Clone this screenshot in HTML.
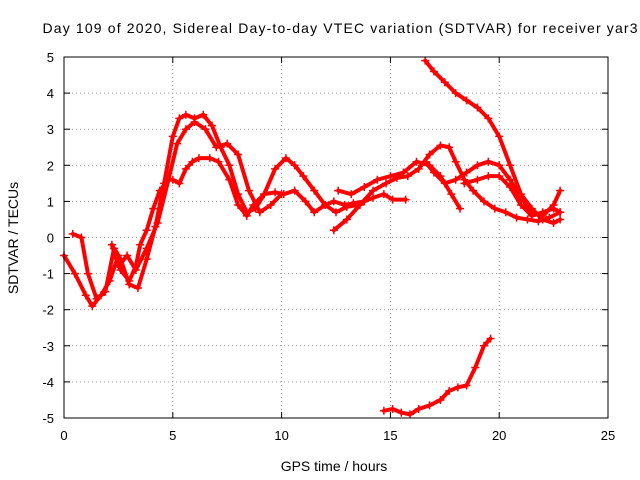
<!DOCTYPE html>
<html><head><meta charset="utf-8"><style>
body{margin:0;background:#fff}
svg{display:block;font-family:"Liberation Sans",sans-serif}
</style></head><body>
<svg id="chart" width="640" height="480">
<text x="340" y="33" font-size="14" text-anchor="middle" textLength="595" lengthAdjust="spacing">Day 109 of 2020, Sidereal Day-to-day VTEC variation (SDTVAR) for receiver yar3</text>
<text x="334" y="471" font-size="14" text-anchor="middle">GPS time / hours</text>
<text x="18" y="238" font-size="14" text-anchor="middle" transform="rotate(-90 18 238)">SDTVAR / TECUs</text>
<g id="grid"></g><g id="ticks"></g><g id="series"></g>
<rect x="64" y="57" width="544" height="361" fill="none" stroke="#000"/>
</svg>
<script>
const xTicks=[0,5,10,15,20,25];
const yTicks=[-5,-4,-3,-2,-1,0,1,2,3,4,5];
const s1x=[0,0.5,1,1.3,1.7,2.1,2.5,2.6,3,3.3,3.5,3.8,4.1,4.4,4.8,5,5.3,5.6,5.9,6.2,6.7,7.1,7.6,8,8.4,8.7,9.2,9.7,10.1,10.6,11.1,11.5,12,12.4,12.9,13.3,13.8,14.2,14.7,15.1,15.7];
const s1y=[-0.5,-1.0,-1.6,-1.9,-1.6,-1.2,-0.5,-0.9,-1.2,-0.8,-0.2,0.2,0.8,1.3,1.6,1.6,1.5,1.9,2.1,2.2,2.2,2.1,1.6,0.9,0.6,0.9,1.2,1.25,1.2,1.3,1.0,0.7,0.9,1.0,0.9,0.95,1.0,1.1,1.2,1.05,1.05];
const s2x=[0.4,0.8,1.1,1.5,1.9,2.3,2.6,3.0,3.4,3.8,4.2,4.6,5,5.3,5.6,6,6.4,6.8,7.2,7.6,8,8.4,8.8,9.2,9.7,10.2,10.6,11,11.5,12,12.5,13,13.5];
const s2y=[0.1,0,-1.0,-1.7,-1.5,-0.3,-0.6,-1.3,-1.4,-0.6,0.3,1.5,2.8,3.3,3.4,3.3,3.4,3.1,2.5,2.0,1.2,0.7,0.8,1.2,1.9,2.2,2.0,1.7,1.3,0.9,0.7,0.85,0.9];
const s3x=[2.2,2.5,2.9,3.3,3.8,4.3,4.8,5.2,5.6,6,6.5,7,7.5,8,8.5,9,9.5,10];
const s3y=[-0.2,-0.8,-0.5,-0.9,-0.3,0.4,1.6,2.6,3.0,3.2,3.0,2.5,2.6,2.3,1.3,0.7,0.9,1.2];
const s4x=[12.4,13,13.6,14.2,14.8,15.3,15.8,16.3,16.8,17.3,17.7,18,18.4,18.8,19.3,19.8,20.3,20.8,21.3,21.8,22.3,22.8];
const s4y=[0.2,0.5,0.9,1.3,1.5,1.65,1.7,1.9,2.3,2.55,2.5,2.1,1.6,1.3,1.0,0.8,0.7,0.55,0.5,0.45,0.55,0.7];
const s5x=[12.6,13.2,13.8,14.4,15,15.6,16.2,16.8,17.3,17.8,18.2];
const s5y=[1.3,1.2,1.4,1.6,1.7,1.8,2.1,2.0,1.7,1.2,0.8];
const s6x=[16.6,17,17.5,18,18.5,19,19.5,20,20.5,21,21.5,22,22.5,22.8];
const s6y=[2.1,1.8,1.5,1.6,1.8,2.0,2.1,2.0,1.6,1.1,0.7,0.6,0.9,1.3];
const s7x=[16.6,17,17.5,18,18.5,19,19.5,20,20.5,21,21.5,22,22.5,22.8];
const s7y=[4.9,4.6,4.3,4.0,3.8,3.6,3.3,2.8,2.0,1.2,0.8,0.5,0.4,0.5];
const s8x=[18.4,19,19.5,20,20.5,21,21.5,22,22.5,22.8];
const s8y=[1.5,1.6,1.7,1.7,1.4,0.9,0.6,0.7,0.8,0.7];
const s9x=[14.7,15.1,15.5,15.9,16.3,16.8,17.3,17.7,18.1,18.5,18.9,19.3,19.6];
const s9y=[-4.8,-4.75,-4.85,-4.9,-4.75,-4.65,-4.5,-4.25,-4.15,-4.1,-3.6,-3.0,-2.8];
const seriesX=[s1x,s2x,s3x,s4x,s5x,s6x,s7x,s8x,s9x];
const seriesY=[s1y,s2y,s3y,s4y,s5y,s6y,s7y,s8y,s9y];
const L=64,R=608,T=57,B=418;
const xs=v=>L+(v-0)/25*(R-L);
const ys=v=>B-(v+5)/10*(B-T);
const NS="http://www.w3.org/2000/svg";
function mk(tag,attrs,parent){const e=document.createElementNS(NS,tag);for(const k in attrs)e.setAttribute(k,attrs[k]);parent.appendChild(e);return e;}
const grid=document.getElementById('grid'),ticks=document.getElementById('ticks'),ser=document.getElementById('series');
xTicks.forEach(t=>{const x=xs(t);
 if(t>0&&t<25){const g=mk('line',{x1:x,x2:x,y1:T,y2:B,stroke:'#a0a0a0','stroke-dasharray':'1,3'},grid);
 
 }
 mk('line',{x1:x,x2:x,y1:B,y2:B-6,stroke:'#000'},ticks);mk('line',{x1:x,x2:x,y1:T,y2:T+6,stroke:'#000'},ticks);
 const tx=mk('text',{x:x,y:B+22,'font-size':13,'text-anchor':'middle'},ticks);tx.textContent=t;
 
 });
yTicks.forEach(t=>{const y=ys(t);
 if(t>-5&&t<5){const g=mk('line',{x1:L,x2:R,y1:y,y2:y,stroke:'#a0a0a0','stroke-dasharray':'1,3'},grid);
 
 }
 mk('line',{x1:L,x2:L+6,y1:y,y2:y,stroke:'#000'},ticks);mk('line',{x1:R,x2:R-6,y1:y,y2:y,stroke:'#000'},ticks);
 const tx=mk('text',{x:L-10,y:y+5,'font-size':13,'text-anchor':'end'},ticks);tx.textContent=t;
 
 });
seriesX.forEach((xa,i)=>{const ya=seriesY[i];
 const g=mk('g',{},ser);
 
 
 const pts=xa.map((v,j)=>xs(v)+','+ys(ya[j])).join(' ');
 mk('polyline',{points:pts,fill:'none',stroke:'#f00','stroke-width':4,'stroke-linejoin':'round','stroke-linecap':'round'},g);
 xa.forEach((v,j)=>{const x=xs(v),y=ys(ya[j]);
  mk('path',{d:`M${x-4},${y}H${x+4}M${x},${y-4}V${y+4}`,stroke:'#f00','stroke-width':1.5},g);});
});
</script>
</body></html>
